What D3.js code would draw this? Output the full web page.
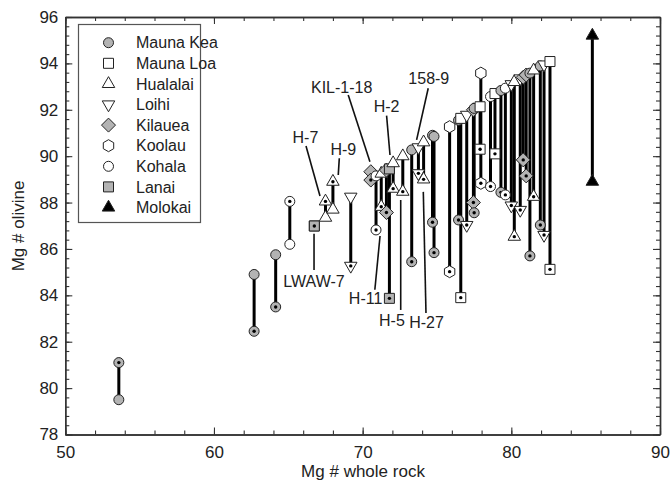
<!DOCTYPE html>
<html>
<head>
  <meta charset="utf-8">
  <title>Mg# olivine vs whole rock</title>
  <script src="https://d3js.org/d3.v7.min.js"></script>
  <style>
    body {
      margin: 0;
      padding: 0;
      background: #fff;
    }
    text {
      font-family: "Liberation Sans", Arial, sans-serif;
      fill: #222;
    }
  </style>
</head>
<body>
  <div id="chart"></div>
  <script>
    // legend order
    var volcanoes = ["Mauna Kea", "Mauna Loa", "Hualalai", "Loihi", "Kilauea", "Koolau", "Kohala", "Lanai", "Molokai"];

    // one entry per sample: whole-rock Mg#, calculated olivine Mg# (open end), measured olivine Mg# (dotted end)
    var segVolcano = ["Mauna Kea", "Mauna Kea", "Mauna Kea", "Kohala", "Lanai", "Hualalai", "Hualalai", "Loihi",
      "Kilauea", "Kohala", "Hualalai", "Kilauea", "Lanai", "Hualalai", "Hualalai", "Mauna Kea", "Loihi", "Hualalai",
      "Mauna Kea", "Mauna Kea", "Koolau", "Mauna Kea", "Mauna Loa", "Loihi", "Kilauea", "Mauna Kea", "Mauna Loa",
      "Koolau", "Kohala", "Mauna Loa", "Mauna Kea", "Kohala", "Loihi", "Hualalai", "Loihi", "Kilauea", "Kilauea",
      "Mauna Kea", "Hualalai", "Mauna Kea", "Loihi", "Mauna Loa", "Molokai"];
    var segX = [53.6, 62.7, 64.15, 65.1, 66.75, 67.5, 68.0, 69.2,
      70.55, 70.9, 71.25, 71.6, 71.8, 72.05, 72.7, 73.3, 73.75, 74.1,
      74.7, 74.8, 75.85, 76.45, 76.6, 77.0, 77.45, 77.5, 77.9,
      77.95, 78.6, 78.9, 79.3, 79.6, 80.0, 80.2, 80.6, 80.8, 81.0,
      81.25, 81.5, 81.95, 82.2, 82.6, 85.45];
    var segCalc = [79.5, 84.9, 85.75, 86.2, 86.99, 87.35, 87.7, 88.25,
      89.33, 89.15, 89.25, 89.4, 89.45, 89.7, 90.0, 90.27, 90.38, 90.6,
      90.9, 90.85, 91.27, 91.55, 91.63, 91.78, 92.0, 92.06, 92.13,
      93.58, 92.57, 92.7, 92.83, 92.93, 93.1, 93.2, 93.35, 93.4, 93.5,
      93.58, 93.7, 93.89, 93.95, 94.08, 95.2];
    var segMeas = [81.1, 82.45, 83.5, 88.05, 86.99, 88.05, 88.9, 85.27,
      88.97, 86.82, 87.82, 87.57, 83.87, 88.6, 88.47, 85.45, 89.26, 89.0,
      87.15, 85.84, 85.02, 87.25, 83.9, 87.03, 88.0, 87.56, 90.3,
      88.83, 88.69, 90.1, 88.44, 88.33, 87.87, 86.53, 87.68, 89.84, 89.15,
      85.7, 88.25, 87.03, 86.6, 85.12, 88.9];

    // sample labels with leader lines (data units)
    var annText = ["KIL-1-18", "H-2", "158-9", "H-7", "H-9", "LWAW-7", "H-11", "H-5", "H-27"];
    var annX = [68.59, 71.61, 74.45, 66.15, 68.7, 66.73, 70.2, 71.97, 74.3];
    var annY = [92.95, 92.14, 93.34, 90.81, 90.29, 84.62, 83.85, 82.9, 82.85];
    var leadX1 = [69.03, 71.61, 74.41, 66.19, 68.43, 66.73, 70.82, 72.56, 74.26];
    var leadY1 = [92.64, 91.75, 92.93, 90.44, 89.91, 85.09, 84.24, 83.37, 83.24];
    var leadX2 = [70.49, 71.84, 73.63, 67.13, 68.36, 66.73, 71.17, 72.56, 74.08];
    var leadY2 = [89.76, 90.05, 90.7, 88.28, 89.19, 86.65, 86.56, 88.11, 88.46];

    var xTicks = [50, 60, 70, 80, 90];
    var yTicks = [78, 80, 82, 84, 86, 88, 90, 92, 94, 96];

    var width = 672, height = 486;

    var svg = d3.select("#chart").append("svg")
      .attr("width", width)
      .attr("height", height);

    var x = d3.scaleLinear().domain([50, 90]).range([65.3, 660]);
    var y = d3.scaleLinear().domain([78, 96]).range([434.5, 17]);

    // polygon symbol helper; size is read as (2R)^2
    function polySymbol(points) {
      return {
        draw: function(ctx, size) {
          var r = Math.sqrt(size) / 2;
          points.forEach(function(p, i) {
            if (i === 0) ctx.moveTo(p[0] * r, p[1] * r);
            else ctx.lineTo(p[0] * r, p[1] * r);
          });
          ctx.closePath();
        }
      };
    }
    var hexPts = d3.range(6).map(function(i) {
      var a = (-90 + 60 * i) * Math.PI / 180;
      return [1.2 * Math.cos(a), 1.2 * Math.sin(a)];
    });
    var triUp = polySymbol([[0, -1.45], [1.25, 0.72], [-1.25, 0.72]]);
    var triDown = polySymbol([[0, 1.45], [1.25, -0.72], [-1.25, -0.72]]);
    var diamond = polySymbol([[0, -1.4], [1.4, 0], [0, 1.4], [-1.4, 0]]);
    var square = polySymbol([[-1, -1], [1, -1], [1, 1], [-1, 1]]);
    var hexagon = polySymbol(hexPts);
    var circle = {
      draw: function(ctx, size) {
        var r = Math.sqrt(size) / 2;
        ctx.moveTo(r, 0);
        ctx.arc(0, 0, r, 0, 2 * Math.PI);
      }
    };

    var shapeOf = {
      "Mauna Kea": circle, "Mauna Loa": square, "Hualalai": triUp, "Loihi": triDown,
      "Kilauea": diamond, "Koolau": hexagon, "Kohala": circle, "Lanai": square, "Molokai": triUp
    };
    var fillOf = d3.scaleOrdinal()
      .domain(volcanoes)
      .range(["#b3b3b3", "#fff", "#fff", "#fff", "#b3b3b3", "#fff", "#fff", "#b3b3b3", "#000"]);

    var symbol = d3.symbol().size(100);

    // axes: frame with inward ticks
    var minorX = d3.range(50, 90.01, 2);
    var minorY = d3.range(78, 96.01, 0.4);

    function addAxis(axisFn, scale, transform, values, size, labels) {
      var a = axisFn(scale).tickValues(values).tickSizeInner(-size).tickSizeOuter(0);
      if (!labels) a.tickFormat("");
      var g = svg.append("g").attr("transform", transform).call(a);
      g.selectAll("path.domain").attr("stroke", "#333").attr("stroke-width", 1.4);
      g.selectAll(".tick line").attr("stroke", "#333").attr("stroke-width", 1.1);
      return g;
    }

    addAxis(d3.axisBottom, x, "translate(0,434.5)", minorX, 4, false);
    addAxis(d3.axisTop, x, "translate(0,17)", minorX, 4, false);
    addAxis(d3.axisLeft, y, "translate(65.3,0)", minorY, 4, false);
    addAxis(d3.axisRight, y, "translate(660,0)", minorY, 4, false);
    addAxis(d3.axisTop, x, "translate(0,17)", xTicks, 7, false);
    addAxis(d3.axisRight, y, "translate(660,0)", yTicks, 7, false);

    var gx = addAxis(d3.axisBottom, x, "translate(0,434.5)", xTicks, 7, true);
    gx.selectAll("text").attr("font-size", 17).attr("y", 11)
      .attr("font-family", "Liberation Sans, Arial, sans-serif").attr("fill", "#222");
    var gy = addAxis(d3.axisLeft, y, "translate(65.3,0)", yTicks, 7, true);
    gy.selectAll("text").attr("font-size", 17).attr("x", -7)
      .attr("font-family", "Liberation Sans, Arial, sans-serif").attr("fill", "#222");

    svg.append("text")
      .attr("x", 363).attr("y", 477)
      .attr("text-anchor", "middle")
      .attr("font-size", 17)
      .text("Mg # whole rock");
    svg.append("text")
      .attr("transform", "translate(24,226) rotate(-90)")
      .attr("text-anchor", "middle")
      .attr("font-size", 17)
      .text("Mg # olivine");

    var samples = segX.map(function(v, i) {
      return { volcano: segVolcano[i], x: v, calc: segCalc[i], meas: segMeas[i] };
    });

    // leader lines and labels
    var ann = svg.append("g");
    annText.forEach(function(t, i) {
      ann.append("line")
        .attr("x1", x(leadX1[i])).attr("y1", y(leadY1[i]))
        .attr("x2", x(leadX2[i])).attr("y2", y(leadY2[i]))
        .attr("stroke", "#111").attr("stroke-width", 1.6);
      ann.append("text")
        .attr("x", x(annX[i])).attr("y", y(annY[i]))
        .attr("dy", "0.35em")
        .attr("text-anchor", "middle")
        .attr("font-size", 16)
        .text(t);
    });

    // vertical tie lines
    svg.append("g").selectAll("line")
      .data(samples)
      .enter().append("line")
        .attr("x1", function(d) { return x(d.x); })
        .attr("x2", function(d) { return x(d.x); })
        .attr("y1", function(d) { return y(d.calc); })
        .attr("y2", function(d) { return y(d.meas); })
        .attr("stroke", "#000")
        .attr("stroke-width", 3);

    // calculated (open) and measured (dotted) ends
    var marks = svg.append("g");
    samples.forEach(function(d) {
      var shape = shapeOf[d.volcano];
      marks.append("path")
        .attr("transform", "translate(" + x(d.x) + "," + y(d.calc) + ")")
        .attr("d", symbol.type(shape)())
        .attr("fill", fillOf(d.volcano))
        .attr("stroke", "#222").attr("stroke-width", 1);
      marks.append("path")
        .attr("transform", "translate(" + x(d.x) + "," + y(d.meas) + ")")
        .attr("d", symbol.type(shape)())
        .attr("fill", fillOf(d.volcano))
        .attr("stroke", "#222").attr("stroke-width", 1);
      if (d.volcano !== "Molokai") {
        marks.append("circle")
          .attr("cx", x(d.x)).attr("cy", y(d.meas))
          .attr("r", 1.7).attr("fill", "#000");
      }
    });

    // legend
    var legend = svg.append("g");
    legend.append("rect")
      .attr("x", 78.5).attr("y", 24.5)
      .attr("width", 122).attr("height", 198)
      .attr("fill", "#fff").attr("stroke", "#555").attr("stroke-width", 1.2);
    volcanoes.forEach(function(v, i) {
      var ly = 42.7 + i * 20.6;
      legend.append("path")
        .attr("transform", "translate(108.5," + ly + ")")
        .attr("d", symbol.type(shapeOf[v])())
        .attr("fill", fillOf(v))
        .attr("stroke", "#222").attr("stroke-width", 1);
      legend.append("text")
        .attr("x", 136).attr("y", ly)
        .attr("dy", "0.35em")
        .attr("font-size", 16)
        .text(v);
    });
  </script>
</body>
</html>
